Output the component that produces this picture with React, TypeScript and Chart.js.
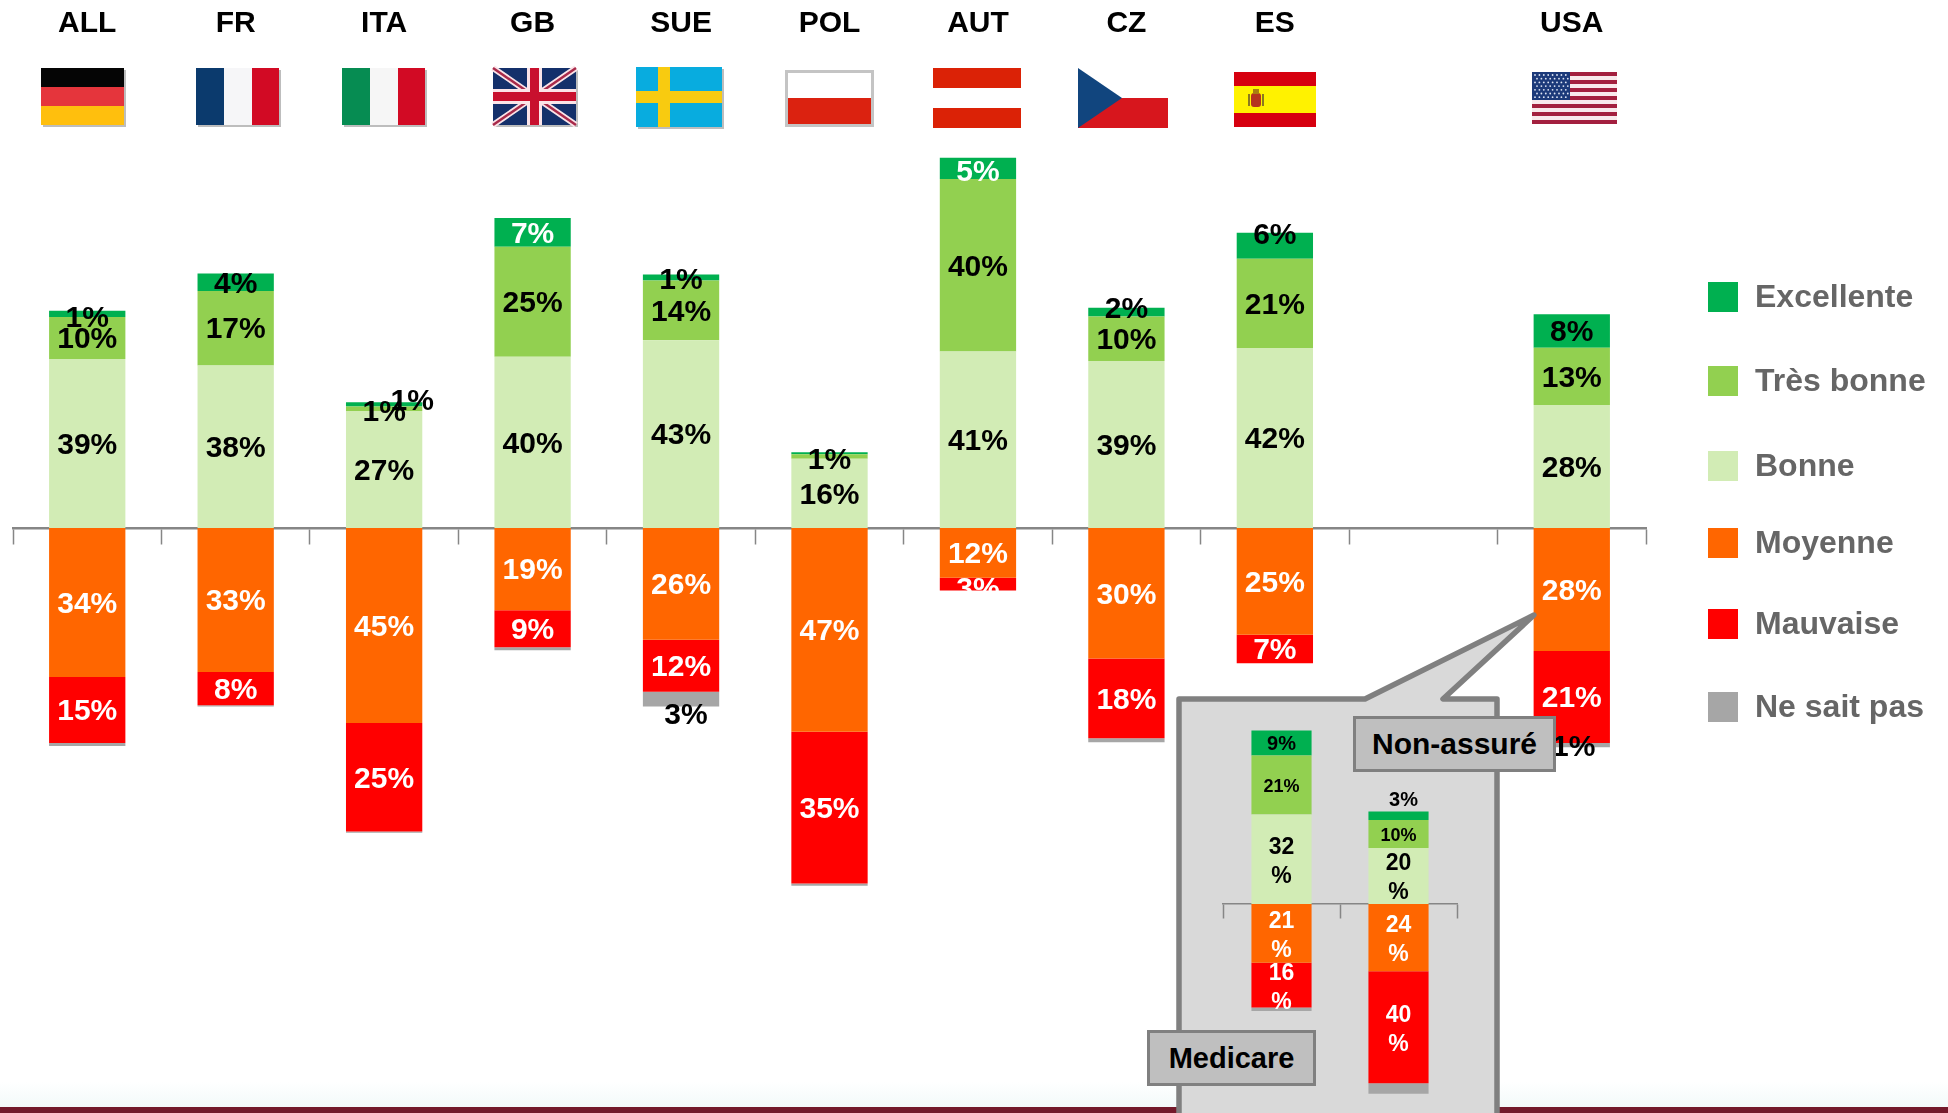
import React, { useEffect, useRef } from "react";
import { Chart, registerables } from "chart.js";

Chart.register(...registerables);

// ---------- data ----------
const countries = ["ALL", "FR", "ITA", "GB", "SUE", "POL", "AUT", "CZ", "ES", "", "USA"];
const bonne = [39, 37.5, 27, 39.5, 43.3, 16, 40.7, 38.5, 41.5, null, 28.4];
const tresBonne = [9.7, 17.2, 1, 25.4, 13.8, 1, 39.8, 10.3, 20.6, null, 13.2];
const excellente = [1.4, 4, 1, 6.6, 1.4, 0.5, 4.9, 2, 6, null, 7.7];
const moyenne = [-34.4, -33.2, -45, -19, -25.8, -47, -11.5, -30.1, -24.6, null, -28.4];
const mauvaise = [-15.2, -7.7, -25, -8.5, -12, -35, -2.9, -18.4, -6.6, null, -21.2];
const neSaitPas = [-0.7, -0.3, -0.3, -0.7, -3.4, -0.5, 0, -0.9, 0, null, -1];

const insetGroups = ["Medicare", "Non-assuré"];
const insetBonne = [32, 20];
const insetTresBonne = [21, 10];
const insetExcellente = [9, 3];
const insetMoyenne = [-21, -24];
const insetMauvaise = [-16, -40];
const insetNeSaitPas = [-1.2, -3.8];

const seriesNames = ["Bonne", "Très bonne", "Excellente", "Moyenne", "Mauvaise", "Ne sait pas"];
const seriesColors = ["#d2ecb5", "#92d050", "#00b050", "#ff6600", "#ff0000", "#a6a6a6"];
const legendOrder = [2, 1, 0, 3, 4, 5];
const legendCenters = [297, 381, 466, 543, 624, 707];
const labelColors = ["#000", "#000", "#000", "#fff", "#fff", "#000"];
// per "dataset:category" tweaks of the value labels
const whiteOverrides = ["2:3", "2:6"];
const labelShift: Record<string, [number, number]> = {
  "2:0": [0, 3],
  "2:1": [0, 1],
  "2:2": [28, -5],
  "1:2": [0, 2],
  "2:4": [0, 1],
  "1:5": [0, 2],
  "2:7": [0, -4],
  "2:8": [0, -12],
  "5:4": [5, 15],
  "5:10": [2, 1],
  "2:6": [0, 2],
  "4:6": [0, 4],
};

const FONT = '"Liberation Sans", Arial, sans-serif';

const mainLabels = {
  id: "mainLabels",
  afterDatasetsDraw(chart: any) {
    const ctx = chart.ctx;
    ctx.save();
    ctx.textAlign = "center";
    ctx.textBaseline = "middle";
    ctx.font = `bold 30px ${FONT}`;
    chart.data.datasets.forEach((ds: any, di: number) => {
      const meta = chart.getDatasetMeta(di);
      ds.data.forEach((v: number | null, i: number) => {
        if (v == null || Math.abs(v) < 1) return;
        const el = meta.data[i];
        const key = `${di}:${i}`;
        const shift = labelShift[key] || [0, 0];
        ctx.fillStyle = whiteOverrides.includes(key) ? "#fff" : labelColors[di];
        ctx.fillText(`${Math.round(Math.abs(v))}%`, el.x + shift[0], (el.y + el.base) / 2 + 2 + shift[1]);
      });
    });
    // country headers
    const x = chart.scales.x;
    ctx.fillStyle = "#000";
    ctx.font = `bold 30px ${FONT}`;
    countries.forEach((c, i) => {
      if (c) ctx.fillText(c, x.getPixelForTick(i), 24);
    });
    // legend
    ctx.textAlign = "left";
    ctx.font = `bold 32px ${FONT}`;
    legendOrder.forEach((di, k) => {
      const cy = legendCenters[k];
      ctx.fillStyle = seriesColors[di];
      ctx.fillRect(1708, cy - 15, 30, 30);
      ctx.fillStyle = "#666666";
      ctx.fillText(seriesNames[di], 1755, cy + 1);
    });
    ctx.restore();
  },
};

const insetLabels = {
  id: "insetLabels",
  afterDatasetsDraw(chart: any) {
    const ctx = chart.ctx;
    ctx.save();
    ctx.textAlign = "center";
    ctx.textBaseline = "middle";
    chart.data.datasets.forEach((ds: any, di: number) => {
      if (di === 5) return;
      const meta = chart.getDatasetMeta(di);
      ds.data.forEach((v: number, i: number) => {
        const el = meta.data[i];
        const cy = (el.y + el.base) / 2 + 1;
        const num = Math.abs(v);
        ctx.fillStyle = labelColors[di];
        if (di === 1) {
          ctx.font = `bold 18px ${FONT}`;
          ctx.fillText(`${num}%`, el.x, cy + 1);
        } else if (di === 2) {
          ctx.font = `bold 20px ${FONT}`;
          const above = num < 5;
          ctx.fillText(`${num}%`, el.x + (above ? 5 : 0), above ? cy - 16 : cy);
        } else {
          ctx.font = `bold 23px ${FONT}`;
          ctx.fillText(`${num}`, el.x, cy - 13);
          ctx.fillText("%", el.x, cy + 16);
        }
      });
    });
    ctx.restore();
  },
};

function makeDatasets(rows: any[][]) {
  return rows.map((data, i) => ({
    label: seriesNames[i],
    data,
    backgroundColor: seriesColors[i],
    borderWidth: 0,
    barPercentage: 1,
    categoryPercentage: 0.514,
  }));
}

function axisOptions(yMin: number, yMax: number, tickLen: number, width: number) {
  return {
    x: {
      stacked: true,
      position: { y: 0 },
      offset: true,
      border: { display: true, color: "#868686", width },
      grid: { display: true, drawOnChartArea: false, drawTicks: true, tickLength: tickLen, tickWidth: 1.5, tickColor: "#868686", offset: true },
      ticks: { display: false },
    },
    y: { stacked: true, display: false, min: yMin, max: yMax },
  };
}

const flagShadow = "#bdbdbd";

function Flags() {
  const starDots: React.ReactElement[] = [];
  for (let r = 0; r < 7; r++) {
    for (let c = 0; c < 8; c++) {
      starDots.push(<circle key={`${r}-${c}`} cx={1535 + c * 4.4 + (r % 2) * 2} cy={75 + r * 3.7} r={0.9} fill="#dfe6f5" />);
    }
  }
  const usStripes: React.ReactElement[] = [];
  for (let i = 0; i < 13; i += 2) {
    usStripes.push(<rect key={i} x={1532} y={72 + i * 4} width={85} height={4} fill="#a3203f" />);
  }
  const shadow = (x: number, y: number, w: number, h: number) => <rect x={x + 2} y={y + 2} width={w} height={h} fill={flagShadow} />;
  return (
    <svg width={1948} height={140} style={{ position: "absolute", left: 0, top: 0 }}>
      {/* Germany */}
      {shadow(41, 68, 83, 57)}
      <rect x={41} y={68} width={83} height={19} fill="#050505" />
      <rect x={41} y={87} width={83} height={19} fill="#e5353c" />
      <rect x={41} y={106} width={83} height={19} fill="#ffbf0d" />
      {/* France */}
      {shadow(196, 68, 83, 57)}
      <rect x={196} y={68} width={28} height={57} fill="#0b3a6d" />
      <rect x={224} y={68} width={28} height={57} fill="#f6f6f8" />
      <rect x={252} y={68} width={27} height={57} fill="#d20a24" />
      {/* Italy */}
      {shadow(342, 68, 83, 57)}
      <rect x={342} y={68} width={28} height={57} fill="#068c52" />
      <rect x={370} y={68} width={28} height={57} fill="#f6f6f6" />
      <rect x={398} y={68} width={27} height={57} fill="#d20a24" />
      {/* United Kingdom */}
      {shadow(493, 68, 83, 57)}
      <rect x={493} y={68} width={83} height={57} fill="#14306b" />
      <path d="M493 68L576 125M576 68L493 125" stroke="#fbe4e8" strokeWidth={6} />
      <path d="M493 68L576 125M576 68L493 125" stroke="#a82a4a" strokeWidth={2.5} />
      <rect x={493} y={89} width={83} height={15} fill="#fbe4e8" />
      <rect x={527} y={68} width={15} height={57} fill="#fbe4e8" />
      <rect x={493} y={92} width={83} height={9} fill="#c8102e" />
      <rect x={530} y={68} width={9} height={57} fill="#c8102e" />
      {/* Sweden */}
      {shadow(636, 67, 86, 60)}
      <rect x={636} y={67} width={86} height={60} fill="#08acdf" />
      <rect x={658} y={67} width={12} height={60} fill="#f8cb10" />
      <rect x={636} y={91} width={86} height={12} fill="#f8cb10" />
      {/* Poland */}
      <rect x={786.5} y={71.5} width={86} height={54} fill="#ffffff" stroke="#c4c4c4" strokeWidth={3} />
      <rect x={788} y={98} width={83} height={26} fill="#db2210" />
      {/* Austria */}
      <rect x={933} y={68} width={88} height={20} fill="#db2206" />
      <rect x={933} y={108} width={88} height={20} fill="#db2206" />
      {/* Czech Republic */}
      <path d="M1078 98H1168V128H1078Z" fill="#d7161d" />
      <path d="M1078 68L1122 98L1078 128Z" fill="#11457e" />
      {/* Spain */}
      <rect x={1234} y={72} width={82} height={55} fill="#d6000f" />
      <rect x={1234} y={86} width={82} height={27} fill="#fff200" />
      <rect x={1251} y={93} width={10} height={14} rx={3} fill="#b5341f" />
      <rect x={1253} y={89} width={6} height={5} fill="#a88010" />
      <rect x={1248} y={94} width={2} height={12} fill="#8a7a20" />
      <rect x={1262} y={94} width={2} height={12} fill="#8a7a20" />
      {/* USA */}
      <rect x={1532} y={72} width={85} height={52} fill="#f8e9ec" />
      {usStripes}
      <rect x={1532} y={72} width={38} height={28} fill="#1c3a7a" />
      {starDots}
    </svg>
  );
}

function Callout() {
  return (
    <svg width={1948} height={1113} style={{ position: "absolute", left: 0, top: 0, pointerEvents: "none" }}>
      <path
        d="M1179 1130L1179 699L1365 699L1534 615L1443 699L1497 699L1497 1130Z"
        fill="#d9d9d9"
        stroke="#808080"
        strokeWidth={5.5}
        strokeLinejoin="round"
      />
    </svg>
  );
}

function Tag({ text, x, y, w, h, size }: { text: string; x: number; y: number; w: number; h: number; size: number }) {
  return (
    <div
      style={{
        position: "absolute",
        left: x,
        top: y,
        width: w,
        height: h,
        boxSizing: "border-box",
        background: "#bfbfbf",
        border: "3.5px solid #808080",
        color: "#000",
        font: `bold ${size}px ${FONT}`,
        display: "flex",
        alignItems: "center",
        justifyContent: "center",
      }}
    >
      {text}
    </div>
  );
}

export default function App() {
  const mainRef = useRef<HTMLCanvasElement>(null);
  const insetRef = useRef<HTMLCanvasElement>(null);

  useEffect(() => {
    document.body.style.margin = "0";
    const main = new Chart(mainRef.current!, {
      type: "bar",
      data: {
        labels: countries,
        datasets: makeDatasets([bonne, tresBonne, excellente, moyenne, mauvaise, neSaitPas]) as any,
      },
      options: {
        responsive: false,
        animation: false,
        layout: { padding: { left: 13, right: 302, top: 0, bottom: 0 } },
        plugins: { legend: { display: false }, tooltip: { enabled: false }, title: { display: false } },
        scales: axisOptions(-585 / 4.335, 528 / 4.335, 15, 2.5) as any,
      },
      plugins: [mainLabels],
    });
    const inset = new Chart(insetRef.current!, {
      type: "bar",
      data: {
        labels: insetGroups,
        datasets: makeDatasets([insetBonne, insetTresBonne, insetExcellente, insetMoyenne, insetMauvaise, insetNeSaitPas]) as any,
      },
      options: {
        responsive: false,
        animation: false,
        layout: { padding: { left: 10, right: 10, top: 0, bottom: 0 } },
        plugins: { legend: { display: false }, tooltip: { enabled: false }, title: { display: false } },
        scales: axisOptions(-209 / 2.8, 204 / 2.8, 14, 1.5) as any,
      },
      plugins: [insetLabels],
    });
    return () => {
      main.destroy();
      inset.destroy();
    };
  }, []);

  return (
    <div style={{ position: "absolute", left: 0, top: 0, width: 1948, height: 1113, overflow: "hidden", background: "#fff" }}>
      <div style={{ position: "absolute", left: 0, top: 1082, width: 1948, height: 25, background: "linear-gradient(#ffffff,#f2fafa)" }} />
      <div style={{ position: "absolute", left: 0, top: 1107, width: 1948, height: 6, background: "#731a2b" }} />
      <canvas ref={mainRef} width={1948} height={1113} style={{ position: "absolute", left: 0, top: 0 }} />
      <Flags />
      <Callout />
      <canvas ref={insetRef} width={254} height={413} style={{ position: "absolute", left: 1213, top: 700 }} />
      <Tag text="Non-assuré" x={1353} y={716} w={203} h={56} size={30} />
      <Tag text="Medicare" x={1147} y={1030} w={169} h={56} size={29} />
    </div>
  );
}
